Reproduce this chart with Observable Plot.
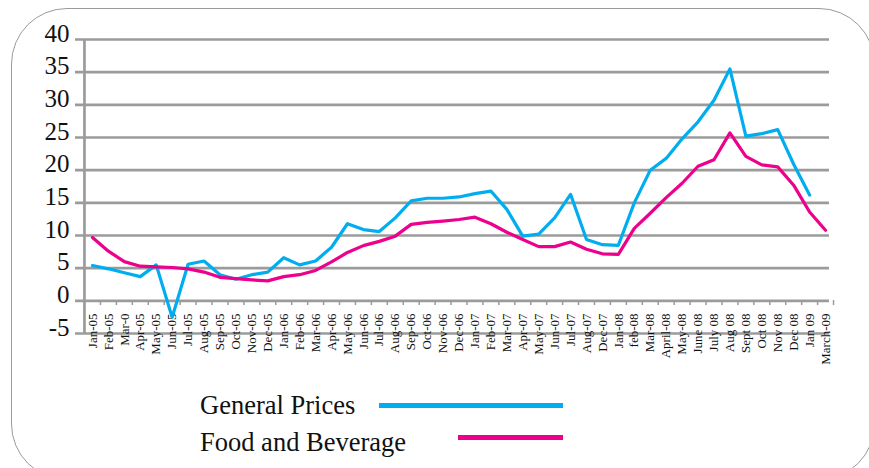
<!DOCTYPE html>
<html>
<head>
<meta charset="utf-8">
<script src="https://cdn.jsdelivr.net/npm/d3@7"></script>
<script src="https://cdn.jsdelivr.net/npm/@observablehq/plot@0.6"></script>
<style>
  html, body { margin: 0; padding: 0; background: #fff; width: 869px; height: 468px; overflow: hidden; }
  #frame { position: absolute; left: 11px; top: 8px; width: 864px; height: 472px; box-sizing: border-box;
           border: 1.5px solid #9a9a9a; border-radius: 56px; }
  #chart { position: absolute; left: 0; top: 0; }
  .leg { position: absolute; font-family: "Liberation Serif", serif; font-size: 26.5px; line-height: 26.5px; color: #111; white-space: nowrap; }
  .sw { position: absolute; height: 5px; }
</style>
</head>
<body>
<div id="frame"></div>
<div id="chart"></div>
<div class="leg" style="left:200px; top:392px;">General Prices</div>
<div class="sw" style="left:379px; top:403px; width:184px; background:#00aeef;"></div>
<div class="leg" style="left:200px; top:429px;">Food and Beverage</div>
<div class="sw" style="left:458px; top:435px; width:105px; background:#ec008c;"></div>
<script>
const months = ["Jan-05","Feb-05","Mar-0","Apr-05","May-05","Jun-05","Jul-05","Aug-05","Sep-05","Oct-05","Nov-05","Dec-05",
  "Jan-06","Feb-06","Mar-06","Apr-06","May-06","Jun-06","Jul-06","Aug-06","Sep-06","Oct-06","Nov-06","Dec-06",
  "Jan-07","Feb-07","Mar-07","Apr-07","May-07","Jun-07","Jul-07","Aug-07","Dec-07",
  "Jan-08","feb-08","Mar-08","April-08","May-08","June 08","July 08","Aug 08","Sept 08","Oct 08","Nov 08","Dec 08",
  "Jan 09","March-09"];

const generalPrices = [5.4,4.9,4.3,3.7,5.5,-2.5,5.6,6.1,4.0,3.3,4.0,4.4,
  6.6,5.5,6.1,8.2,11.8,10.9,10.6,12.7,15.3,15.7,15.7,15.9,
  16.4,16.8,14.0,9.9,10.2,12.7,16.3,9.4,8.6,
  8.5,15.0,20.0,21.8,24.8,27.4,30.7,35.5,25.2,25.6,26.2,20.9,
  16.2,null];

const foodBeverage = [9.7,7.6,6.0,5.3,5.2,5.1,4.9,4.4,3.6,3.4,3.2,3.05,
  3.7,4.0,4.65,5.95,7.4,8.45,9.1,9.9,11.7,12.0,12.2,12.45,
  12.8,11.8,10.5,9.4,8.3,8.3,9.0,7.9,7.2,
  7.1,11.1,13.4,15.8,18.0,20.6,21.6,25.7,22.1,20.8,20.5,17.7,
  13.6,10.8];

const yTicks = [-5,0,5,10,15,20,25,30,35,40];

const gp = months.map((m, i) => ({month: m, value: generalPrices[i]}));
const fb = months.map((m, i) => ({month: m, value: foodBeverage[i]}));

const grid = "#9b9b9b";

const chart = Plot.plot({
  width: 869,
  height: 372,
  marginLeft: 84,
  marginRight: 36,
  marginTop: 39,
  marginBottom: 39,
  style: {fontFamily: "Liberation Serif, serif", background: "transparent", color: "#111", overflow: "visible"},
  x: {type: "point", domain: months, padding: 0.5, label: null},
  y: {domain: [-5, 40], label: null},
  marks: [
    Plot.ruleY(yTicks, {stroke: grid, strokeWidth: 2.7, insetLeft: -9, insetRight: 4}),
    Plot.ruleX([months[0]], {stroke: grid, strokeWidth: 2.7, dx: -8}),
    Plot.axisY(yTicks, {tickSize: 0, tickPadding: 15, fontSize: 25, fontFamily: "Liberation Serif", dy: -6, tickFormat: d => String(d)}),
    Plot.axisX({tickSize: 5, tickFormat: () => "", dx: 8, dy: -33, stroke: grid, strokeWidth: 1.5}),
    Plot.axisX({tickSize: 0, tickPadding: 13, tickRotate: -90, fontSize: 13, fontFamily: "Liberation Serif", dy: -33}),
    Plot.line(gp, {x: "month", y: "value", stroke: "#00aeef", strokeWidth: 3.2}),
    Plot.line(fb, {x: "month", y: "value", stroke: "#ec008c", strokeWidth: 3.2})
  ]
});
document.getElementById("chart").appendChild(chart);
</script>
</body>
</html>
